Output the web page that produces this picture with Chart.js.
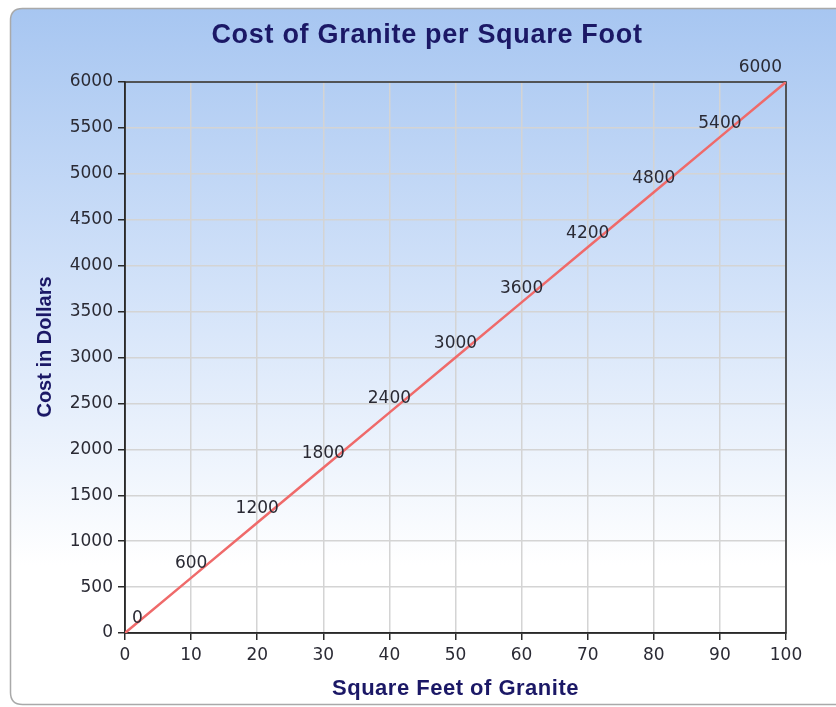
<!DOCTYPE html>
<html>
<head>
<meta charset="utf-8">
<script src="https://cdn.jsdelivr.net/npm/chart.js@4/dist/chart.umd.min.js"></script>
<style>
html,body{margin:0;padding:0;background:#fff;}
#wrap{width:836px;height:707px;position:relative;}
</style>
</head>
<body>
<div id="wrap"><canvas id="c" width="836" height="707"></canvas></div>
<script>
const squareFeet = [0, 10, 20, 30, 40, 50, 60, 70, 80, 90, 100];
const costDollars = [0, 600, 1200, 1800, 2400, 3000, 3600, 4200, 4800, 5400, 6000];
const xTicks = [0, 10, 20, 30, 40, 50, 60, 70, 80, 90, 100];
const yTicks = [0, 500, 1000, 1500, 2000, 2500, 3000, 3500, 4000, 4500, 5000, 5500, 6000];
const chartTitle = 'Cost of Granite per Square Foot';
const xTitle = 'Square Feet of Granite';
const yTitle = 'Cost in Dollars';

const numFont = "'DejaVu Sans', sans-serif";
const titleFont = "'Liberation Sans', Arial, sans-serif";
const navy = '#1b1866';

const bgPlugin = {
  id: 'bg',
  beforeDraw(chart) {
    const ctx = chart.ctx;
    ctx.save();
    const x = 10.5, y = 8.5, w = 860, h = 696, r = 12;
    const g = ctx.createLinearGradient(0, y, 0, y + h);
    g.addColorStop(0, '#a7c6f1');
    g.addColorStop(0.4, '#d2e2f9');
    g.addColorStop(0.8, '#ffffff');
    g.addColorStop(1, '#ffffff');
    ctx.beginPath();
    ctx.moveTo(x + r, y);
    ctx.lineTo(x + w - r, y);
    ctx.quadraticCurveTo(x + w, y, x + w, y + r);
    ctx.lineTo(x + w, y + h - r);
    ctx.quadraticCurveTo(x + w, y + h, x + w - r, y + h);
    ctx.lineTo(x + r, y + h);
    ctx.quadraticCurveTo(x, y + h, x, y + h - r);
    ctx.lineTo(x, y + r);
    ctx.quadraticCurveTo(x, y, x + r, y);
    ctx.closePath();
    ctx.fillStyle = g;
    ctx.fill();
    ctx.strokeStyle = '#a9a9a9';
    ctx.lineWidth = 1.5;
    ctx.stroke();
    ctx.restore();
  }
};

const titlesPlugin = {
  id: 'titles',
  afterDraw(chart) {
    const {ctx, chartArea: a} = chart;
    ctx.save();
    ctx.fillStyle = navy;
    ctx.textBaseline = 'alphabetic';
    ctx.textAlign = 'center';
    ctx.font = 'bold 27px ' + titleFont;
    ctx.letterSpacing = '0.7px';
    ctx.fillText(chartTitle, 427, 43);
    ctx.font = 'bold 22px ' + titleFont;
    ctx.letterSpacing = '0.5px';
    ctx.fillText(xTitle, (a.left + a.right) / 2, 695);
    ctx.letterSpacing = '0px';
    ctx.font = 'bold 20px ' + titleFont;
    ctx.translate(51, 347);
    ctx.rotate(-Math.PI / 2);
    ctx.fillText(yTitle, 0, 0);
    ctx.restore();
  }
};

const framePlugin = {
  id: 'frame',
  beforeDatasetsDraw(chart) {
    const {ctx, chartArea: a} = chart;
    ctx.save();
    ctx.strokeStyle = '#2a2a2a';
    ctx.lineWidth = 1.5;
    ctx.strokeRect(a.left, a.top, a.right - a.left, a.bottom - a.top);
    ctx.restore();
  }
};

const labelPlugin = {
  id: 'ptlabels',
  afterDatasetsDraw(chart) {
    const {ctx, chartArea: a} = chart;
    const meta = chart.getDatasetMeta(0);
    ctx.save();
    ctx.font = '17px ' + numFont;
    ctx.fillStyle = '#2a2a34';
    ctx.textAlign = 'left';
    ctx.textBaseline = 'middle';
    meta.data.forEach((pt, i) => {
      const txt = String(costDollars[i]);
      const w = ctx.measureText(txt).width;
      let lx = pt.x - w / 2;
      if (lx < a.left + 7) lx = a.left + 7;
      if (lx + w > a.right - 4) lx = a.right - 4 - w;
      ctx.fillText(txt, lx, pt.y - 14);
    });
    ctx.restore();
  }
};

new Chart(document.getElementById('c'), {
  type: 'line',
  data: {
    datasets: [{
      data: squareFeet.map((x, i) => ({x: x, y: costDollars[i]})),
      borderColor: '#ef6a6a',
      borderWidth: 2.5,
      pointRadius: 0,
      tension: 0,
      fill: false
    }]
  },
  options: {
    responsive: false,
    animation: false,
    layout: {padding: {top: 82, right: 50, bottom: 0, left: 0}},
    plugins: {
      legend: {display: false},
      tooltip: {enabled: false},
      title: {display: false}
    },
    scales: {
      x: {
        type: 'linear',
        min: 0, max: 100,
        afterBuildTicks(s) { s.ticks = xTicks.map(v => ({value: v})); },
        afterFit(s) { s.height = 74; },
        ticks: {color: '#2a2a34', font: {family: numFont, size: 17}, padding: 5, maxRotation: 0,
                callback: v => String(v)},
        grid: {color: '#d4d4d4', lineWidth: 1.5, tickColor: '#2a2a2a', tickLength: 7},
        border: {color: '#2a2a2a', width: 1.5}
      },
      y: {
        type: 'linear',
        min: 0, max: 6000,
        afterBuildTicks(s) { s.ticks = yTicks.map(v => ({value: v})); },
        afterFit(s) { s.width = 125; },
        ticks: {color: '#2a2a34', font: {family: numFont, size: 17}, padding: 5,
                callback: v => String(v)},
        grid: {color: '#d4d4d4', lineWidth: 1.5, tickColor: '#2a2a2a', tickLength: 7},
        border: {color: '#2a2a2a', width: 1.5}
      }
    }
  },
  plugins: [bgPlugin, framePlugin, labelPlugin, titlesPlugin]
});
</script>
</body>
</html>
